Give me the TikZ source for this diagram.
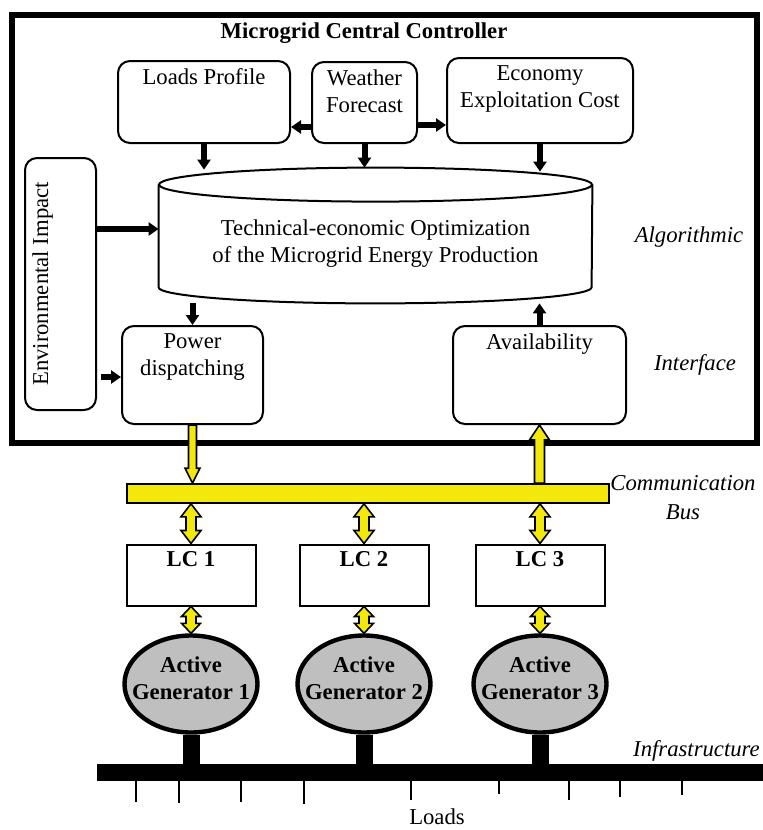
\documentclass[tikz,border=0pt]{standalone}
\usepackage{fontspec}
\setmainfont{Liberation Serif}
\usepackage{xcolor}
\usepackage{tikz}
\usetikzlibrary{arrows.meta,calc,shapes.geometric}
\definecolor{busyellow}{RGB}{242,232,12}
\AtBeginDocument{\fontsize{11.35}{13.5}\selectfont}

\begin{document}
\begin{tikzpicture}[x=0.5pt, y=-0.5pt,
  rbox/.style={draw, line width=1pt, rounded corners=6pt, inner sep=0pt},
  lcbox/.style={draw, line width=1pt, inner sep=0pt, minimum width=64.5pt, minimum height=30.5pt},
  intext/.style={anchor=north, align=center, inner sep=4pt},
  gen/.style={ellipse, draw, line width=2.2pt, fill=gray!50, inner sep=0pt,
    minimum width=66.5pt, minimum height=48.5pt},
  gentext/.style={align=center, font=\bfseries, yshift=3pt},
  arr/.style={line width=3pt, -{Triangle[width=6.5pt,length=5pt]}},
  loadtick/.style={line width=0.8pt},
  ysingle/.style args={#1/#2/#3}{draw, fill=busyellow, line width=0.8pt,
    to path={let \p1=(\tikztostart), \p2=(\tikztotarget),
      \n1={(\y2-\y1)/abs(\y2-\y1)} in
      ({\x1-#1},\y1) -- ({\x1-#1},{\y2-(\n1)*#3}) -- ({\x1-#2},{\y2-(\n1)*#3}) -- (\x1,\y2)
      -- ({\x1+#2},{\y2-(\n1)*#3}) -- ({\x1+#1},{\y2-(\n1)*#3}) -- ({\x1+#1},\y1) -- cycle}},
  ydouble/.style args={#1/#2/#3}{draw, fill=busyellow, line width=0.8pt,
    to path={let \p1=(\tikztostart), \p2=(\tikztotarget),
      \n1={(\y2-\y1)/abs(\y2-\y1)} in
      (\x1,\y1) -- ({\x1+#2},{\y1+(\n1)*#3}) -- ({\x1+#1},{\y1+(\n1)*#3})
      -- ({\x1+#1},{\y2-(\n1)*#3}) -- ({\x1+#2},{\y2-(\n1)*#3}) -- (\x1,\y2)
      -- ({\x1-#2},{\y2-(\n1)*#3}) -- ({\x1-#1},{\y2-(\n1)*#3})
      -- ({\x1-#1},{\y1+(\n1)*#3}) -- ({\x1-#2},{\y1+(\n1)*#3}) -- cycle}}]
  \useasboundingbox (0,0) rectangle (763,830);

  % central controller
  \draw[line width=3pt] (12,15) rectangle (757,443);
  \node[font=\bfseries] (title) at (364,33) {Microgrid Central Controller};

  \node[rbox, minimum width=86pt, minimum height=41pt,
    label={[intext]north:Loads Profile}] (lp) at (204,102) {};
  \node[rbox, minimum width=52.5pt, minimum height=40.5pt,
    label={[intext]north:Weather\\Forecast}] (wf) at (364.5,102.5) {};
  \node[rbox, minimum width=93pt, minimum height=42.5pt,
    label={[intext]north:Economy\\Exploitation Cost}] (ec) at (540,100.5) {};
  \node[rbox, minimum width=35.5pt, minimum height=126pt] (env) at (60.5,284) {};
  \node[rotate=90, anchor=north, inner sep=4pt] (envtext) at (env.west) {Environmental Impact};

  \node[align=center, inner sep=0pt, minimum width=216.5pt, minimum height=59pt] (opt) at (375.5,244)
    {Technical-economic Optimization\\of the Microgrid Energy Production};
  \draw[line width=1pt] (opt.north) ellipse [x radius=108.25pt, y radius=8.5pt];
  \draw[line width=1pt] (opt.north west) -- ([yshift=8pt]opt.south west)
    arc [start angle=180, end angle=360, x radius=108.25pt, y radius=8pt] -- (opt.north east);

  \node[rbox, minimum width=70.5pt, minimum height=49pt,
    label={[intext]north:Power\\dispatching}] (pd) at (192.5,375) {};
  \node[rbox, minimum width=86.5pt, minimum height=49pt,
    label={[intext]north:Availability}] (av) at (539.5,375) {};

  \node[font=\itshape] (alg) at (689,237) {Algorithmic};
  \node[font=\itshape] (itf) at (695,365) {Interface};

  \draw[arr] ([yshift=-12.25pt]wf.west) -- ([yshift=-12.25pt]wf.west -| lp.east);
  \draw[arr] ([yshift=-11.25pt]wf.east) -- ([yshift=-11.25pt]wf.east -| ec.west);
  \draw[arr] (lp.south) -- ([yshift=7.5pt]opt.north -| lp.south);
  \draw[arr] (wf.south) -- ([yshift=8.5pt]opt.north -| wf.south);
  \draw[arr] (ec.south) -- ([yshift=6.5pt]opt.north -| ec.south);
  \draw[arr] ([yshift=27.5pt]env.east) -- ([yshift=27.5pt]env.east -| opt.west);
  \draw[arr] ([xshift=2pt,yshift=-46.5pt]env.east) -- ([yshift=-46.5pt]env.east -| pd.west);
  \draw[arr] (opt.south -| pd.north) -- (pd.north);
  \draw[arr] (av.north) -- (av.north |- opt.south);

  % communication bus
  \node[draw, fill=busyellow, line width=0.8pt, inner sep=0pt,
    minimum width=241pt, minimum height=9.5pt] (bus) at (368,493.5) {};
  \node[font=\itshape, align=center] (bustext) at (683,497.5) {Communication\\[1pt]Bus};
  \draw[ysingle=2pt/3.75pt/7.5pt] (pd.south) to (pd.south |- bus.north);
  \draw[ysingle=2.5pt/5pt/7.5pt] (bus.north -| av.south) to (av.south);

  % local controllers and generators
  \node[fill, inner sep=0pt, minimum width=333pt, minimum height=8.5pt] (bar) at (430,772.5) {};
  \foreach \i/\x in {1/191, 2/364, 3/540} {
    \node[lcbox, label={[intext, font=\bfseries]north:LC \i}] (lc\i) at (\x,575) {};
    \node[gen, label={[gentext]center:Active\\Generator \i}] (g\i) at (\x,684) {};
    \draw[ydouble=2.5pt/5pt/6.5pt] (bus.south -| lc\i.north) to (lc\i.north);
    \draw[ydouble=2.5pt/4.75pt/5pt] (lc\i.south) to (g\i.north);
    \draw[line width=8.5pt] (g\i.south) -- (g\i.south |- bar.north);
  }
  \node[font=\itshape] (infra) at (696.5,751) {Infrastructure};

  % loads
  \foreach \x/\l in {136/21, 179/22, 241/21, 304/23, 411/19, 499/13, 569/19, 620/16, 682/14}
    \draw[loadtick] (bar.south -| \x,0) -- ++(0,\l);
  \node[inner sep=1pt] (loads) at (437,817) {Loads};
\end{tikzpicture}
\end{document}
